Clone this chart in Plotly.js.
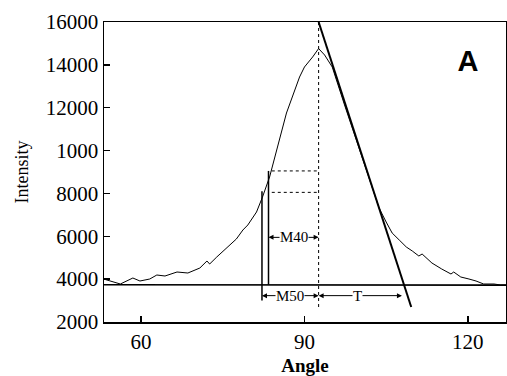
<!DOCTYPE html>
<html>
<head>
<meta charset="utf-8">
<script src="https://cdn.plot.ly/plotly-3.0.1.min.js"></script>
<style>
html,body{margin:0;padding:0;background:#fff;}
#chart{width:507px;height:376px;}
</style>
</head>
<body>
<div id="chart"></div>
<script>
// Intensity profile (angle in degrees, intensity)
const angle = [53.2, 54.3, 56.2, 58.5, 59.8, 61.6, 62.9, 64.4, 66.6, 68.6, 70.8, 72.1, 72.6, 73.9, 75.7, 77.5, 78.7, 79.6, 81.2, 82.3, 83.6, 84.9, 86.7, 89.1, 90.0, 91.5, 92.6, 93.7, 95.1, 97.3, 99.5, 101.9, 103.7, 105.0, 106.1, 107.4, 108.7, 109.8, 111.0, 111.6, 113.4, 115.2, 116.9, 117.4, 118.7, 120.2, 121.5, 122.9, 124.8, 126.0, 127.0];
const intensity = [4000, 3913, 3773, 4053, 3913, 4006, 4193, 4146, 4333, 4286, 4520, 4846, 4706, 5033, 5453, 5873, 6293, 6526, 7133, 7833, 8766, 10026, 11753, 13433, 13900, 14367, 14760, 14460, 13900, 12173, 10493, 8627, 7320, 6666, 6153, 5826, 5500, 5313, 5080, 5173, 4753, 4473, 4240, 4333, 4100, 4006, 3913, 3773, 3773, 3727, 3727];

// Baseline
const baseX = [53.2, 127];
const baseY = [3740, 3720];

// Tangent line
const tanX = [92.6, 109.6];
const tanY = [16000, 2700];

// Peak position (dotted vertical)
const peakX = [92.6, 92.6];
const peakY = [16000, 2700];

// M50 and M40 vertical markers
const m50X = [82.2, 82.2];
const m50Y = [3000, 8100];
const m40X = [83.4, 83.4];
const m40Y = [3740, 9050];

// Dotted horizontal guides
const dot9X = [84.0, 92.6];
const dot9Y = [9050, 9050];
const dot8X = [84.0, 92.6];
const dot8Y = [8050, 8050];

// Dimension labels
const dimLabels = ['M40', 'M50', 'T'];
const dimStart = [83.4, 82.2, 92.6];
const dimEnd = [92.6, 92.6, 107.9];
const dimLevel = [5950, 3230, 3230];
const dimText = [88.0, 87.3, 99.8];

// Panel letter position
const panelLabel = 'A';
const panelX = [120.0];
const panelY = [14050];

// Y-axis ticks (as printed, including the '1000' label)
const yTickVals = [2000, 4000, 6000, 8000, 10000, 12000, 14000, 16000];
const yTickText = ['2000', '4000', '6000', '8000', '1000', '12000', '14000', '16000'];
const xTickVals = [60, 90, 120];

const serif = 'Liberation Serif, Times New Roman, serif';

const traces = [
  {x: angle, y: intensity, mode: 'lines', line: {color: '#000', width: 1}, hoverinfo: 'skip'},
  {x: baseX, y: baseY, mode: 'lines', line: {color: '#000', width: 1.6}},
  {x: tanX, y: tanY, mode: 'lines', line: {color: '#000', width: 2}},
  {x: peakX, y: peakY, mode: 'lines', line: {color: '#000', width: 1, dash: 'dot'}},
  {x: m50X, y: m50Y, mode: 'lines', line: {color: '#000', width: 1.5}},
  {x: m40X, y: m40Y, mode: 'lines', line: {color: '#000', width: 1.5}},
  {x: dot9X, y: dot9Y, mode: 'lines', line: {color: '#000', width: 1, dash: 'dot'}},
  {x: dot8X, y: dot8Y, mode: 'lines', line: {color: '#000', width: 1, dash: 'dot'}},
  {x: panelX, y: panelY, mode: 'text', text: ['<b>' + panelLabel + '</b>'], textposition: 'middle center',
   textfont: {family: 'Liberation Sans, Arial, sans-serif', size: 29, color: '#000'}}
];

const annotations = [];
for (let i = 0; i < dimLabels.length; i++) {
  [dimStart[i], dimEnd[i]].forEach(function (endX) {
    annotations.push({
      x: endX, y: dimLevel[i], ax: dimText[i], ay: dimLevel[i],
      xref: 'x', yref: 'y', axref: 'x', ayref: 'y',
      text: '', showarrow: true, arrowhead: 2, arrowsize: 1, arrowwidth: 1,
      arrowcolor: '#000', standoff: 0, startstandoff: 0
    });
  });
  annotations.push({
    x: dimText[i], y: dimLevel[i], xref: 'x', yref: 'y',
    text: dimLabels[i], showarrow: false, bgcolor: '#fff', borderpad: 0,
    font: {family: serif, size: 15, color: '#000'}
  });
}

const layout = {
  width: 507, height: 376,
  margin: {l: 104, r: 1, t: 22, b: 54},
  paper_bgcolor: '#fff', plot_bgcolor: '#fff',
  showlegend: false,
  xaxis: {
    range: [53.2, 127], tickvals: xTickVals, ticks: 'inside', ticklen: 6, tickwidth: 1.5,
    tickcolor: '#000', showline: true, linecolor: '#000', linewidth: 1.5, mirror: true,
    showgrid: false, zeroline: false,
    tickfont: {family: serif, size: 21, color: '#000'},
    title: {text: '<b>Angle</b>', font: {family: serif, size: 19, color: '#000'}, standoff: 6}
  },
  yaxis: {
    range: [2000, 16000], tickvals: yTickVals, ticktext: yTickText, ticks: 'inside', ticklen: 6,
    tickwidth: 1.5, tickcolor: '#000', showline: true, linecolor: '#000', linewidth: 1.5, mirror: true,
    showgrid: false, zeroline: false,
    tickfont: {family: serif, size: 21, color: '#000'},
    title: {text: 'Intensity', font: {family: serif, size: 18, color: '#000'}, standoff: 12}
  },
  annotations: annotations
};

Plotly.newPlot('chart', traces, layout, {staticPlot: true, displayModeBar: false});
</script>
</body>
</html>
